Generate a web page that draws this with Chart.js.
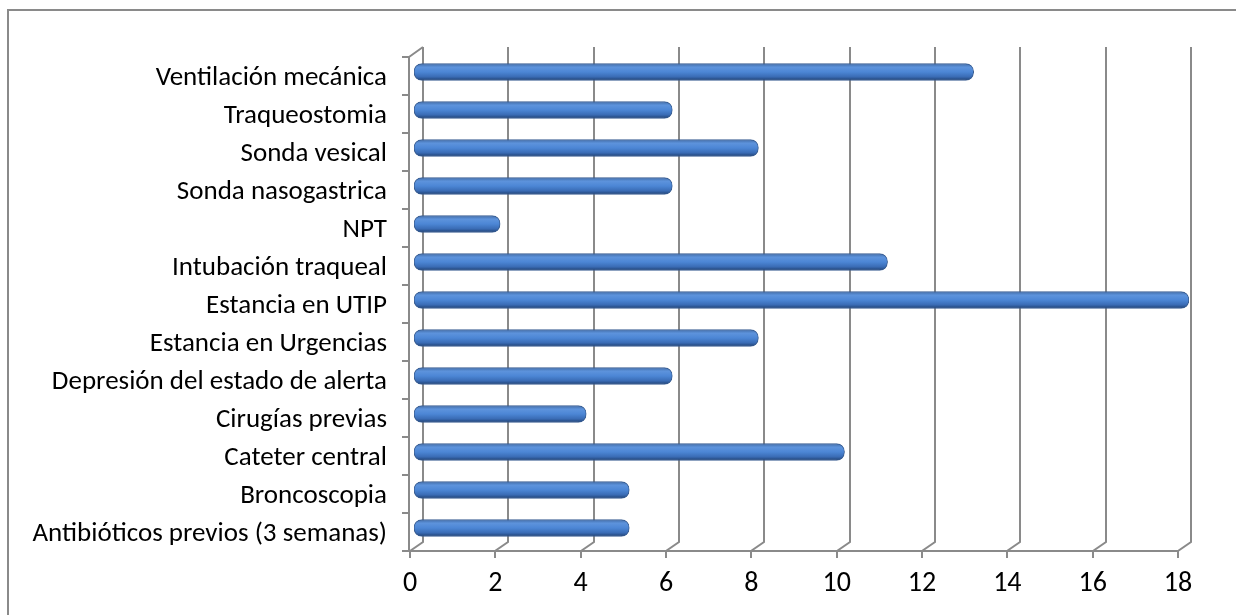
<!DOCTYPE html>
<html>
<head>
<meta charset="utf-8">
<script src="https://cdn.jsdelivr.net/npm/chart.js@4.4.1/dist/chart.umd.min.js"></script>
<style>
  html, body { margin: 0; padding: 0; background: #fff; overflow: hidden; }
  #wrap { width: 1236px; height: 615px; position: relative; }
  canvas { display: block; }
</style>
</head>
<body>
<div id="wrap"><canvas id="factoresChart"></canvas></div>
<script>
const categorias = [
    "Ventilación mecánica",
    "Traqueostomia",
    "Sonda vesical",
    "Sonda nasogastrica",
    "NPT",
    "Intubación traqueal",
    "Estancia en UTIP",
    "Estancia en Urgencias",
    "Depresión del estado de alerta",
    "Cirugías previas",
    "Cateter central",
    "Broncoscopia",
    "Antibióticos previos (3 semanas)"
];
const casos = [13, 6, 8, 6, 2, 11, 18, 8, 6, 4, 10, 5, 5];
const ejeMin = 0;
const ejeMax = 18;
const ejePaso = 2;

const gris = "#8a8a8a";
const familia = "Carlito, Lato, 'Open Sans', sans-serif";

// depth of the 3D wall
const dx = 13;
const dy = 9;

const marco3d = {
    id: "marco3d",
    beforeDraw(chart) {
        // outer frame: only the top and left edges fall inside the canvas
        const c = chart.ctx;
        c.save();
        c.strokeStyle = gris;
        c.lineWidth = 2;
        c.beginPath();
        c.moveTo(8, chart.height);
        c.lineTo(8, 10);
        c.lineTo(chart.width, 10);
        c.stroke();
        c.restore();
    },
    beforeDatasetsDraw(chart) {
        const c = chart.ctx;
        const a = chart.chartArea;
        const xs = chart.scales.x;
        c.save();
        c.strokeStyle = gris;
        c.lineWidth = 2;
        c.beginPath();
        // back gridlines with their slanted foot
        for (let v = ejeMin; v <= ejeMax; v += ejePaso) {
            const x = Math.round(xs.getPixelForValue(v));
            c.moveTo(x, a.bottom + 7);
            c.lineTo(x, a.bottom);
            c.lineTo(x + dx, a.bottom - dy);
            c.lineTo(x + dx, a.top - dy - 1);
        }
        // front axes
        c.moveTo(a.left - 1, a.top);
        c.lineTo(a.left + dx, a.top - dy - 1);
        c.moveTo(a.left - 1, a.top);
        c.lineTo(a.left - 1, a.bottom);
        c.moveTo(a.left - 8, a.bottom);
        c.lineTo(a.right, a.bottom);
        // category tick marks on the left
        const paso = (a.bottom - a.top) / categorias.length;
        for (let i = 0; i <= categorias.length; i++) {
            const y = Math.round(a.top + i * paso);
            c.moveTo(a.left - 8, y);
            c.lineTo(a.left - 1, y);
        }
        c.stroke();
        c.restore();

        // bars sit on the back plane: shift up and right
        c.save();
        c.translate(a.left + 4, -4);
        c.scale(1.009, 1);
        c.translate(-a.left, 0);
    },
    afterDatasetsDraw(chart) {
        chart.ctx.restore();
    }
};

function rellenoCilindro(context) {
    const chart = context.chart;
    const ys = chart.scales.y;
    if (!chart.chartArea || !ys || context.dataIndex === undefined) {
        return "#4f81bd";
    }
    const yc = ys.getPixelForValue(context.dataIndex);
    const g = chart.ctx.createLinearGradient(0, yc - 8, 0, yc + 8);
    g.addColorStop(0, "#4470ad");
    g.addColorStop(0.2, "#5d93dc");
    g.addColorStop(0.5, "#4c86d5");
    g.addColorStop(0.8, "#3a6cb5");
    g.addColorStop(1, "#22457a");
    return g;
}

new Chart(document.getElementById("factoresChart"), {
    type: "bar",
    data: {
        labels: categorias,
        datasets: [{
            data: casos,
            backgroundColor: rellenoCilindro,
            borderColor: "#3a5e92",
            borderWidth: 1,
            borderRadius: 8,
            borderSkipped: false,
            barThickness: 17
        }]
    },
    options: {
        indexAxis: "y",
        responsive: true,
        maintainAspectRatio: false,
        animation: false,
        layout: {
            padding: { top: 57, right: 58, bottom: 0, left: 0 }
        },
        plugins: {
            legend: { display: false },
            tooltip: { enabled: false }
        },
        scales: {
            x: {
                min: ejeMin,
                max: ejeMax,
                ticks: {
                    stepSize: ejePaso,
                    color: "#000",
                    font: { family: familia, size: 28 },
                    padding: 16,
                    maxRotation: 0
                },
                grid: { display: false, drawTicks: false },
                border: { display: false },
                afterFit(scale) { scale.height = 64; }
            },
            y: {
                ticks: {
                    color: "#000",
                    font: { family: familia, size: 27 },
                    padding: 23,
                    labelOffset: 2,
                    autoSkip: false
                },
                grid: { display: false, drawTicks: false },
                border: { display: false },
                afterFit(scale) { scale.width = 410; }
            }
        }
    },
    plugins: [marco3d]
});
</script>
</body>
</html>
